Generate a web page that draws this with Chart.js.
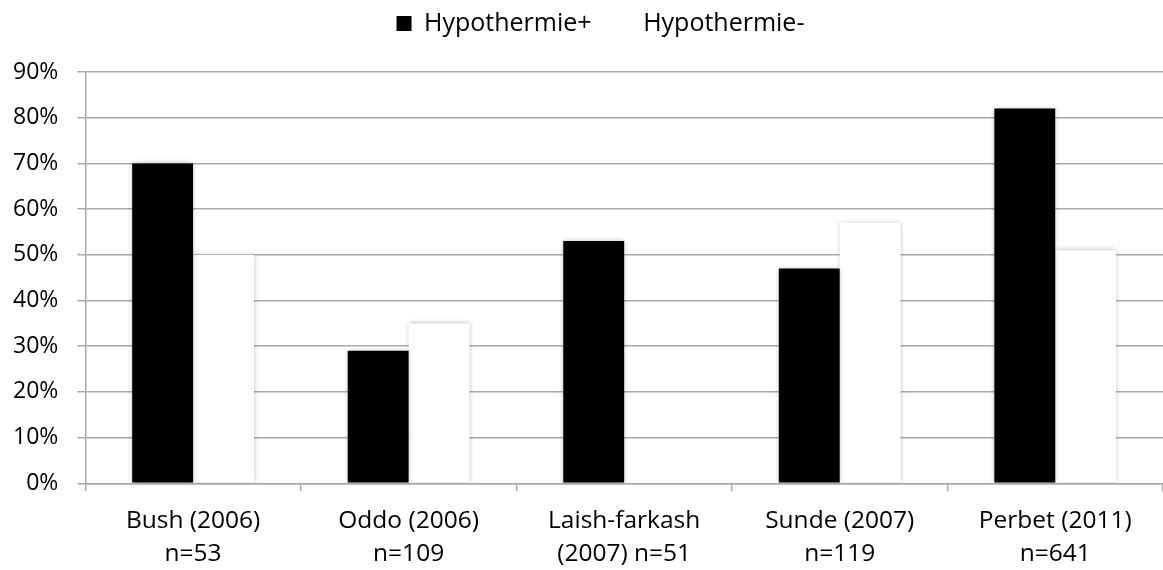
<!DOCTYPE html>
<html>
<head>
<meta charset="utf-8">
<script src="https://cdn.jsdelivr.net/npm/chart.js@4.4.1/dist/chart.umd.min.js"></script>
<style>
html,body{margin:0;padding:0;background:#fff;}
#wrap{width:1163px;height:570px;}
</style>
</head>
<body>
<div id="wrap"><canvas id="grafico"></canvas></div>
<script>
// dados
const etudes = [
  ["Bush (2006)", "n=53"],
  ["Oddo (2006)", "n=109"],
  ["Laish-farkash", "(2007) n=51"],
  ["Sunde (2007)", "n=119"],
  ["Perbet (2011)", "n=641"]
];
const hypoPlus = [70, 29, 53, 47, 82];
const hypoMoins = [50, 35, null, 57, 51];
const yTicks = [0, 10, 20, 30, 40, 50, 60, 70, 80, 90];

const fonte = "'Open Sans', sans-serif";

// sombra leve nas barras
const sombra = {
  id: "sombra",
  beforeDatasetsDraw(chart){
    const ctx = chart.ctx;
    ctx.save();
    ctx.shadowColor = "rgba(0,0,0,0.28)";
    ctx.shadowBlur = 5;
  },
  afterDatasetsDraw(chart){
    chart.ctx.restore();
  }
};

// legenda mais alta (desce o grafico) e um pouco para a direita
const legendaAlta = {
  id: "legendaAlta",
  beforeLayout(chart){
    const lg = chart.legend;
    if(lg && !lg._alta){
      const fitOrig = lg.fit;
      lg.fit = function(){
        fitOrig.call(this);
        this.height += 26;
      };
      lg._alta = true;
    }
  },
  afterLayout(chart){
    const lg = chart.legend;
    if(lg){
      lg.left += 22;
      lg.right += 22;
    }
  }
};

new Chart(document.getElementById("grafico"), {
  type: "bar",
  data: {
    labels: etudes,
    datasets: [
      {label: "Hypothermie+", data: hypoPlus, backgroundColor: "#000", borderWidth: 0},
      {label: "Hypothermie-", data: hypoMoins, backgroundColor: "#fff", borderWidth: 0}
    ]
  },
  options: {
    responsive: true,
    maintainAspectRatio: false,
    animation: false,
    layout: {padding: {left: -6, right: 0, top: -13, bottom: -14}},
    datasets: {bar: {categoryPercentage: 0.565, barPercentage: 1}},
    plugins: {
      legend: {
        position: "top",
        labels: {
          font: {family: fonte, size: 25},
          color: "#000",
          boxWidth: 15,
          boxHeight: 15,
          padding: 24
        }
      },
      tooltip: {enabled: false}
    },
    scales: {
      x: {
        grid: {drawOnChartArea: false, drawTicks: true, tickLength: 8, color: "#aaa", lineWidth: 1.5},
        border: {color: "#aaa", width: 1.5},
        ticks: {font: {family: fonte, size: 24.5, lineHeight: 1.36}, color: "#000", padding: 13, maxRotation: 0, autoSkip: false}
      },
      y: {
        min: 0,
        max: 90,
        afterBuildTicks: axis => { axis.ticks = yTicks.map(v => ({value: v})); },
        grid: {color: "#aaa", lineWidth: 1.5, tickLength: 8},
        border: {color: "#aaa", width: 1.5},
        ticks: {font: {family: fonte, size: 23}, color: "#000", padding: 19, callback: v => v + "%"}
      }
    }
  },
  plugins: [sombra, legendaAlta]
});
</script>
</body>
</html>
